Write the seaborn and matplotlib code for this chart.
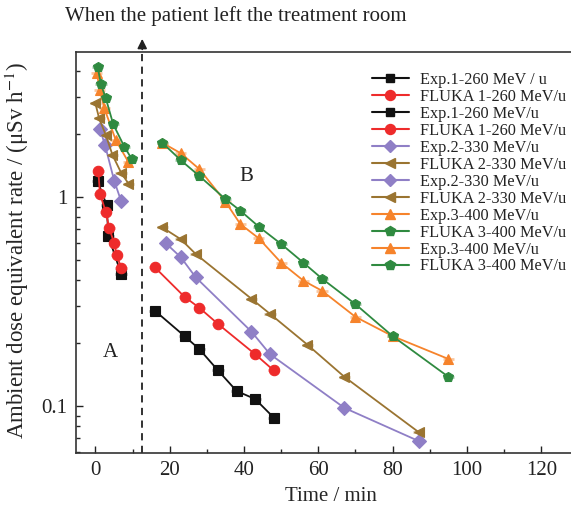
import numpy as np
import pandas as pd
import matplotlib.pyplot as plt
import seaborn as sns
from matplotlib.lines import Line2D
from matplotlib.ticker import MultipleLocator, LogLocator, NullFormatter, FixedLocator

# ---- data (time in min, dose rate in uSv/h) ----
labels = [
    "Exp.1-260 MeV / u", "FLUKA 1-260 MeV/u",
    "Exp.1-260 MeV/u", "FLUKA 1-260 MeV/u ",
    "Exp.2-330 MeV/u", "FLUKA 2-330 MeV/u",
    "Exp.2-330 MeV/u ", "FLUKA 2-330 MeV/u ",
    "Exp.3-400 MeV/u", "FLUKA 3-400 MeV/u",
    "Exp.3-400 MeV/u ", "FLUKA 3-400 MeV/u ",
]

exp1_late_t = [16, 24, 28, 33, 38, 43, 48]
exp1_late_d = [0.286, 0.216, 0.187, 0.148, 0.118, 0.108, 0.088]
fluka1_late_t = [16, 24, 28, 33, 43, 48]
fluka1_late_d = [0.461, 0.333, 0.295, 0.247, 0.177, 0.148]
exp1_early_t = [0.6, 3.0, 3.5, 6.9]
exp1_early_d = [1.19, 0.92, 0.65, 0.43]
fluka1_early_t = [0.8, 1.2, 2.8, 3.7, 5.1, 5.7, 6.9]
fluka1_early_d = [1.33, 1.04, 0.85, 0.71, 0.60, 0.53, 0.46]

exp2_early_t = [1.2, 2.6, 5.1, 6.9]
exp2_early_d = [2.12, 1.77, 1.19, 0.96]
fluka2_early_t = [0.0, 1.0, 2.8, 4.6, 6.9, 8.9]
fluka2_early_d = [2.81, 2.38, 1.98, 1.59, 1.31, 1.16]
exp2_late_t = [19, 23, 27, 42, 47, 67, 87]
exp2_late_d = [0.60, 0.515, 0.413, 0.227, 0.177, 0.098, 0.068]
fluka2_late_t = [18, 23, 27, 42, 47, 57, 67, 87]
fluka2_late_d = [0.716, 0.628, 0.534, 0.326, 0.276, 0.197, 0.138, 0.075]

exp3_early_t = [0.4, 1.2, 2.4, 5.5, 8.8]
exp3_early_d = [3.91, 3.25, 2.66, 1.87, 1.48]
fluka3_early_t = [0.6, 1.5, 2.8, 4.8, 7.8, 9.8]
fluka3_early_d = [4.20, 3.46, 2.97, 2.23, 1.74, 1.52]
exp3_late_t = [18, 23, 28, 35, 39, 44, 50, 56, 61, 70, 80, 95]
exp3_late_d = [1.82, 1.62, 1.36, 0.95, 0.743, 0.634, 0.485, 0.398, 0.356, 0.267, 0.216, 0.168]
fluka3_late_t = [18, 23, 28, 35, 39, 44, 50, 56, 61, 70, 80, 95]
fluka3_late_d = [1.82, 1.50, 1.26, 0.978, 0.861, 0.721, 0.596, 0.485, 0.407, 0.307, 0.216, 0.138]

series_t = [exp1_late_t, fluka1_late_t, exp1_early_t, fluka1_early_t,
            exp2_early_t, fluka2_early_t, exp2_late_t, fluka2_late_t,
            exp3_early_t, fluka3_early_t, exp3_late_t, fluka3_late_t]
series_d = [exp1_late_d, fluka1_late_d, exp1_early_d, fluka1_early_d,
            exp2_early_d, fluka2_early_d, exp2_late_d, fluka2_late_d,
            exp3_early_d, fluka3_early_d, exp3_late_d, fluka3_late_d]

xerr_min = 1.5  # horizontal uncertainty on each time point

BLACK, RED, PURPLE = "#111111", "#ee2b2b", "#8f7fc6"
BROWN, ORANGE, GREEN = "#9a7431", "#f6832b", "#2f8a40"
colors = [BLACK, RED, BLACK, RED, PURPLE, BROWN, PURPLE, BROWN,
          ORANGE, GREEN, ORANGE, GREEN]
mks = ["s", "o", "s", "o", "D", "<", "D", "<", "^", "p", "^", "p"]
msizes = [7, 8, 7, 8, 6.5, 8, 6.5, 8, 8, 8.5, 8, 8.5]

rows = []
for lab, ts, ds in zip(labels, series_t, series_d):
    for t, d in zip(ts, ds):
        rows.append((lab, t, d))
df = pd.DataFrame(rows, columns=["series", "time", "dose"])

sns.set_theme(style="ticks")
plt.rcParams["font.family"] = ["Liberation Serif", "DejaVu Serif"]
plt.rcParams["mathtext.fontset"] = "stix"

fig = plt.figure(figsize=(5.71, 5.11), dpi=100)
ax = fig.add_axes([0.1326, 0.1135, 0.8674, 0.7845])

# error bars underneath
for lab, ts, ds, c in zip(labels, series_t, series_d, colors):
    ax.errorbar(ts, ds, xerr=xerr_min, fmt="none", ecolor=c, alpha=0.45,
                elinewidth=2, capsize=0, zorder=1)

palette = dict(zip(labels, colors))
markers = dict(zip(labels, mks))
sns.lineplot(data=df, x="time", y="dose", hue="series", style="series",
             hue_order=labels, style_order=labels, palette=palette,
             markers=markers, dashes=False, sort=False, estimator=None,
             linewidth=1.3, markersize=7.5, legend=False, ax=ax, zorder=3)
for line in ax.lines:
    line.set_markeredgecolor(line.get_color())
    line.set_markeredgewidth(0.8)

ax.set_yscale("log")
ax.set_xlim(-5.3, 128)
ax.set_ylim(0.0596, 4.94)

ax.xaxis.set_major_locator(MultipleLocator(20))
ax.xaxis.set_minor_locator(MultipleLocator(10))
ax.yaxis.set_major_locator(FixedLocator([0.1, 1]))
ax.yaxis.set_minor_locator(LogLocator(base=10, subs=np.arange(2, 10)))
ax.yaxis.set_minor_formatter(NullFormatter())
ax.set_yticklabels(["0.1", "1"])
ax.tick_params(which="major", direction="in", length=5, width=1,
               labelsize=15, colors="#222222", pad=6)
ax.tick_params(which="minor", direction="in", length=3, width=1)
ax.tick_params(axis="x", which="both", top=False)
ax.tick_params(axis="y", which="both", right=False)
for side in ["left", "bottom", "top"]:
    ax.spines[side].set_linewidth(1.2)
    ax.spines[side].set_color("#333333")
ax.spines["right"].set_visible(False)

ax.set_xlabel("Time / min", fontsize=15, labelpad=8)
ax.xaxis.set_label_coords(0.515, -0.085)
ax.set_ylabel("Ambient dose equivalent rate / (\u03bcSv h$^{-1}$)",
              fontsize=16.5, labelpad=0)
ax.yaxis.set_label_coords(-0.09, 0.505)

# moment the patient left the room
t_leave = 12.6
ax.axvline(t_leave, color="#222222", linestyle=(0, (4, 3)), linewidth=1.3, zorder=2)
ax.annotate("", xy=(t_leave, 1.04), xytext=(t_leave, 1.0),
            xycoords=("data", "axes fraction"), textcoords=("data", "axes fraction"),
            arrowprops=dict(arrowstyle="-|>", color="#222222", lw=1.2,
                            mutation_scale=14), annotation_clip=False)
fig.text(0.412, 0.969, "When the patient left the treatment room",
         ha="center", va="center", fontsize=15, color="#222222")

ax.text(3.9, 0.181, "A", fontsize=15, ha="center", va="center", color="#222222")
ax.text(40.5, 1.25, "B", fontsize=15, ha="center", va="center", color="#222222")

handles = [Line2D([], [], color=c, marker=m, markersize=s * 0.9, markeredgecolor=c,
                  linewidth=1.5) for c, m, s in zip(colors, mks, msizes)]
leg = ax.legend(handles, [l.strip() for l in labels], loc="upper left",
                bbox_to_anchor=(0.5976, 0.951), frameon=False, fontsize=11.7,
                handlelength=2.3, handletextpad=0.7, labelspacing=0.06,
                borderpad=0, borderaxespad=0)
for t in leg.get_texts():
    t.set_color("#222222")

fig.savefig("out.png", dpi=100)
